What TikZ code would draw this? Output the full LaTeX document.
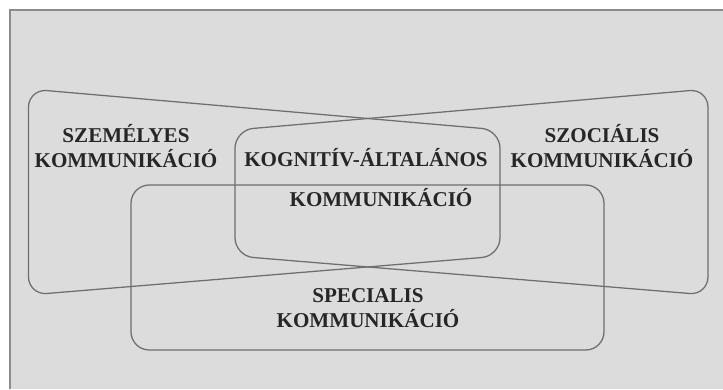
\documentclass[tikz,border=0pt]{standalone}
\usepackage{fontspec}
\setmainfont{Liberation Serif}
\usetikzlibrary{positioning}
\definecolor{paper}{HTML}{DCDCDC}
\definecolor{rim}{HTML}{8C8C8C}
\definecolor{edge}{HTML}{6E6E6E}
\definecolor{ink}{HTML}{262626}

\begin{document}
\begin{tikzpicture}[x=0.025cm,y=-0.025cm]
	\useasboundingbox (0,0) rectangle (723,389);
	\fill[paper] (10,10) rectangle (723,389);
	\draw[rim,line width=1.5pt] (10,389) -- (10,10) -- (723,10);
			\begin{scope}[draw=edge,line width=0.9pt,rounded corners=13pt]
    \draw (28.5,192) -- (28.5,89) -- (500,130) -- (500,256) -- (28.5,295) -- cycle;
    \draw (708,192) -- (708,89) -- (235,130) -- (235,256) -- (708,295) -- cycle;
    \draw (368,350) -- (131,350) -- (131,185) -- (604,185) -- (604,350) -- cycle;
			\end{scope}
			\begin{scope}[every node/.style={text=ink,align=center,inner sep=0pt,
              font=\bfseries\fontsize{15}{18}\selectfont}]
    \node (szem) at (126,146) {SZEMÉLYES\\KOMMUNIKÁCIÓ};
    \node (szoc) at (602,146) {SZOCIÁLIS\\KOMMUNIKÁCIÓ};
    \node (kogn) at (366,158) {KOGNITÍV-ÁLTALÁNOS};
    \node (kognb) at (381,198) {KOMMUNIKÁCIÓ};
    \node (spec) at (368,308) {SPECIALIS\\KOMMUNIKÁCIÓ};
			\end{scope}
\end{tikzpicture}
\end{document}
